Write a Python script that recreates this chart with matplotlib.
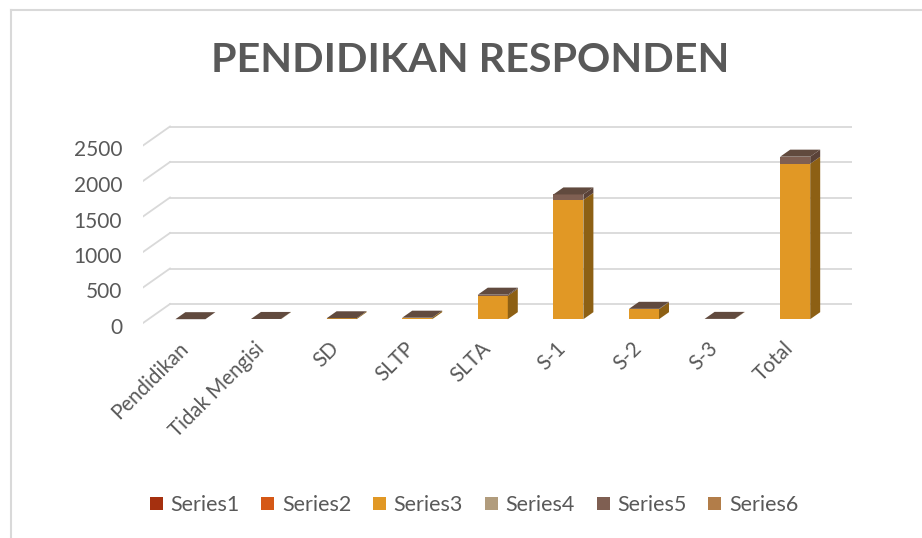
import matplotlib
matplotlib.use("Agg")
import matplotlib.pyplot as plt
from matplotlib.patches import Polygon, Rectangle
from matplotlib.lines import Line2D
from matplotlib.transforms import ScaledTranslation
import numpy as np

plt.rcParams['font.family'] = ['Lato', 'DejaVu Sans']

categories = ["Pendidikan", "Tidak Mengisi", "SD", "SLTP", "SLTA", "S-1", "S-2", "S-3", "Total"]
series_names = ["Series1", "Series2", "Series3", "Series4", "Series5", "Series6"]
series1 = [0, 0, 0, 0, 0, 0, 0, 0, 0]
series2 = [0, 0, 0, 0, 0, 0, 0, 0, 0]
series3 = [0, 3, 12, 20, 330, 1680, 140, 4, 2189]
series4 = [0, 0, 0, 0, 0, 0, 0, 0, 0]
series5 = [0, 0.1, 0.5, 1, 15, 77, 6, 0.2, 100]
series6 = [0, 0, 0, 0, 0, 0, 0, 0, 0]
y_ticks = [0, 500, 1000, 1500, 2000, 2500]

colors = ["#A5300F", "#D55816", "#E19825", "#B19C7D", "#7F5F52", "#B27D49"]
side_colors = ["#6E200A", "#8E3A0F", "#8D6014", "#776852", "#5A4238", "#77532F"]
top_color = "#614A3E"
grid_color = "#D9D9D9"
text_color = "#595959"

W, H = 922, 538
fig = plt.figure(figsize=(W / 100, H / 100), dpi=100)

# axes in pixel space
left_px, right_px, top_px, bot_px = 143, 852, 110, 330
ax = fig.add_axes([left_px / W, 1 - bot_px / H, (right_px - left_px) / W, (bot_px - top_px) / H])

px_per_x = 75.6
px_per_v = 0.071
x0 = -(185 - left_px) / px_per_x
x1 = x0 + (right_px - left_px) / px_per_x
v0 = -(bot_px - 323) / px_per_v
v1 = v0 + (bot_px - top_px) / px_per_v
ax.set_xlim(x0, x1)
ax.set_ylim(v0, v1)

DX = 27 / px_per_x      # full wall depth in x units
DY = 19 / px_per_v      # full wall depth in value units

# gridlines: side wall diagonals + back wall horizontals
for v in y_ticks:
    ax.add_line(Line2D([x0, x0 + DX], [v, v + DY], color=grid_color, lw=1.3, zorder=1))
    ax.add_line(Line2D([x0 + DX, x1], [v + DY, v + DY], color=grid_color, lw=1.3, zorder=1))

d_front, d_back = 0.2, 0.57
bw = 30 / px_per_x
ox_f, oy_f = d_front * DX, d_front * DY
ox_b, oy_b = d_back * DX, d_back * DY
ddx, ddy = ox_b - ox_f, oy_b - oy_f

all_series = [series1, series2, series3, series4, series5, series6]
xs = np.arange(len(categories))
bottoms = np.zeros(len(categories))
for s_idx, vals in enumerate(all_series):
    vals = np.array(vals, dtype=float)
    for i, (x, v, b) in enumerate(zip(xs, vals, bottoms)):
        if v <= 0:
            continue
        xl = x + ox_f - bw / 2
        yb = b + oy_f
        ax.bar(x + ox_f, v, width=bw, bottom=yb, color=colors[s_idx], zorder=3, linewidth=0)
        side = Polygon([(xl + bw, yb), (xl + bw + ddx, yb + ddy), (xl + bw + ddx, yb + v + ddy), (xl + bw, yb + v)],
                       closed=True, facecolor=side_colors[s_idx], edgecolor='none', zorder=3)
        ax.add_patch(side)
    bottoms = bottoms + vals

# top faces
for x, t in zip(xs, bottoms):
    xl = x + ox_f - bw / 2
    yt = t + oy_f
    top = Polygon([(xl, yt), (xl + bw, yt), (xl + bw + ddx, yt + ddy), (xl + ddx, yt + ddy)],
                  closed=True, facecolor=top_color, edgecolor='none', zorder=4)
    ax.add_patch(top)

for sp in ax.spines.values():
    sp.set_visible(False)
ax.set_facecolor('none')

ax.set_yticks(y_ticks)
ax.set_yticklabels([str(v) for v in y_ticks])
ax.tick_params(axis='y', length=0, pad=15, labelsize=15, labelcolor=text_color)
for lab in ax.get_yticklabels():
    lab.set_transform(lab.get_transform() + ScaledTranslation(0, -3 / 100, fig.dpi_scale_trans))

ax.set_xticks(xs + ox_f - 0.07)
ax.set_xticklabels(categories, rotation=45, ha='right', va='center', rotation_mode='anchor')
ax.tick_params(axis='x', length=0, pad=11, labelsize=14.8, labelcolor=text_color)

fig.text(470 / W, 1 - 61 / H, "PENDIDIKAN RESPONDEN", ha='center', va='center',
         fontsize=29.7, fontweight='bold', color=text_color)

handles = [Rectangle((0, 0), 1, 1, facecolor=c, edgecolor='none') for c in colors]
fig.legend(handles, series_names, loc='center', bbox_to_anchor=(474 / W, 1 - 505 / H), ncol=6,
           frameon=False, fontsize=15.5, labelcolor=text_color, handlelength=0.6, handleheight=0.6,
           handletextpad=0.35, columnspacing=1.02)

# chart border (top and left)
fig.add_artist(Line2D([11 / W, 1], [1 - 10 / H, 1 - 10 / H], transform=fig.transFigure, color=grid_color, lw=1.5))
fig.add_artist(Line2D([11 / W, 11 / W], [0, 1 - 10 / H], transform=fig.transFigure, color=grid_color, lw=1.5))

fig.savefig("out.png", dpi=100, facecolor='white')
